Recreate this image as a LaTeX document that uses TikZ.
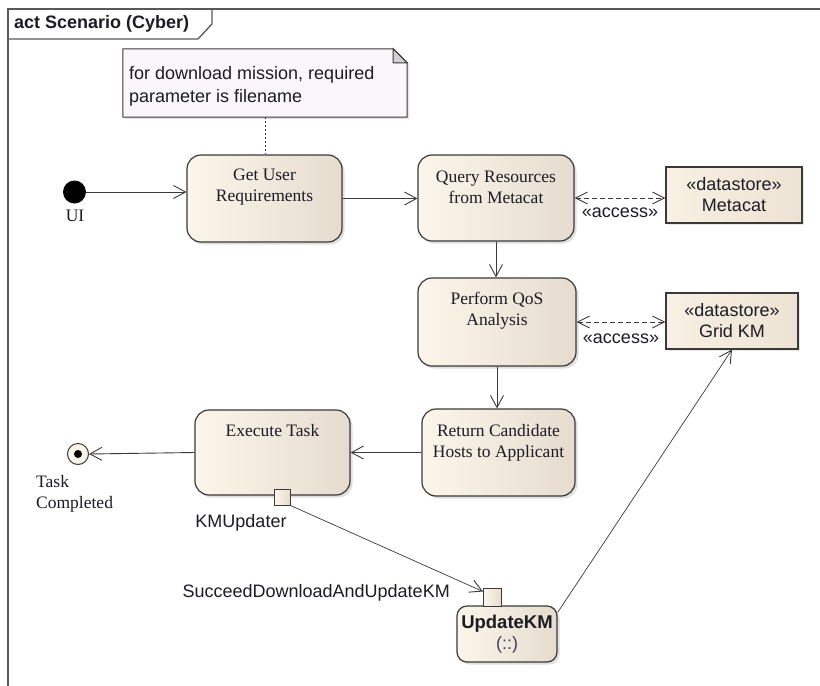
\documentclass[tikz,border=0pt]{standalone}
\usepackage{fontspec}
\setmainfont{Liberation Serif}
\setsansfont{Liberation Sans}
\usetikzlibrary{arrows.meta,shadows,calc}

\definecolor{actleft}{HTML}{FCF6EA}
\definecolor{actright}{HTML}{E5DCCE}
\definecolor{dsleft}{HTML}{F8F0E2}
\definecolor{dsright}{HTML}{EDE3D4}
\definecolor{linec}{HTML}{3A3A3A}
\definecolor{notefill}{HTML}{FAF6FA}
\definecolor{txt}{HTML}{1C1C26}
\definecolor{sigtxt}{HTML}{3A3F5E}

\tikzset{
  every node/.append style={text=txt},
  serif/.style={font=\fontsize{17.5}{21}\selectfont\rmfamily, inner sep=0pt, align=center},
  sans/.style={font=\fontsize{18}{21}\selectfont\sffamily, inner sep=0pt},
  softshadow/.style={drop shadow={shadow xshift=2.5pt, shadow yshift=-2.5pt, opacity=0.25, fill=black!50}},
  action/.style={draw=linec, line width=1.2pt, rounded corners=14pt,
    left color=actleft, right color=actright, softshadow},
  datastore/.style={draw=linec, line width=1.1pt, left color=dsleft, right color=dsright,
    drop shadow={shadow xshift=2pt, shadow yshift=-2pt, opacity=0.2, fill=black!45},
    sans, align=center, minimum height=56pt},
  actpin/.style={draw=linec, line width=1pt, left color=actleft, right color=actright,
    minimum size=16pt, inner sep=0pt},
  flow/.style={draw=linec, line width=0.9pt,
    -{Straight Barb[length=12pt, width=13pt, line width=0.9pt]}},
  access/.style={draw=linec, line width=0.9pt, dash pattern=on 5pt off 3pt,
    {Straight Barb[length=12pt, width=12pt, line width=0.9pt]}-{Straight Barb[length=12pt, width=12pt, line width=0.9pt]}},
  frameline/.style={draw=black!65, line width=1.3pt},
}

\begin{document}
\begin{tikzpicture}[x=1pt, y=-1pt]
\useasboundingbox (0,0) rectangle (820,686);
\clip (0,0) rectangle (820,686);
\fill[white] (0,0) rectangle (820,686);

% diagram frame and its name tab
\draw[frameline] (8,700) -- (8,9) -- (830,9);
\draw[frameline] (8,39) -- (198,39) -- (212,24) -- (212,9);
\node[font=\fontsize{18}{21}\selectfont\sffamily\bfseries, anchor=west, inner sep=0pt] (title) at (14,24) {act Scenario (Cyber)};

% comment note with folded corner
\node[minimum width=284pt, minimum height=68pt, inner sep=0pt] (note) at (265,83) {};
\filldraw[draw=linec, line width=1pt, fill=notefill, drop shadow={shadow xshift=2pt, shadow yshift=-2pt, opacity=0.2, fill=black!50}]
  (note.north west) -- ([xshift=-14pt]note.north east) -- ([yshift=-14pt]note.north east)
  -- (note.south east) -- (note.south west) -- cycle;
\filldraw[draw=linec, line width=1pt, fill=black!18]
  ([xshift=-14pt]note.north east) -- ([xshift=-14pt, yshift=-14pt]note.north east) -- ([yshift=-14pt]note.north east) -- cycle;
\node[sans, font=\fontsize{18}{23}\selectfont\sffamily, anchor=north west, align=left] (notetext) at (129,66)
  {for download mission, required\\parameter is filename};

% actions
\node[action, minimum width=155pt, minimum height=87pt] (gur) at (264.5,198.5) {};
\node[action, minimum width=156pt, minimum height=86pt] (qrm) at (496,198) {};
\node[action, minimum width=158pt, minimum height=88pt] (pqa) at (497,322) {};
\node[action, minimum width=153pt, minimum height=87pt] (rch) at (498.5,452.5) {};
\node[action, minimum width=155pt, minimum height=85pt] (ext) at (272.5,452.5) {};
\node[action, rounded corners=10pt, minimum width=100pt, minimum height=56pt, sans, align=center] (ukm) at (507,634)
  {\fontsize{18.5}{25}\selectfont\bfseries UpdateKM\\\fontsize{18}{25}\selectfont\color{sigtxt}(::)};

\node[serif] (gurtext) at ($(gur.center)+(0,-11)$) {Get User\\Requirements};
\node[serif] (qrmtext) at ($(qrm.center)+(0,-10.5)$) {Query Resources\\from Metacat};
\node[serif] (pqatext) at ($(pqa.center)+(0,-11)$) {Perform QoS\\Analysis};
\node[serif] (rchtext) at ($(rch.center)+(0,-10)$) {Return Candidate\\Hosts to Applicant};
\node[serif] (exttext) at ($(ext.center)+(0,-22)$) {Execute Task};

% data stores
\node[datastore, minimum width=136pt] (mc) at (734,195) {«datastore»\\Metacat};
\node[datastore, minimum width=132pt] (gk) at (732,321) {«datastore»\\Grid KM};

% pins
\node[actpin] (pout) at (282,497) {};
\node[actpin, minimum size=18pt] (pin) at (492.5,597) {};
\node[sans, anchor=center] (poutlabel) at (241,523) {KMUpdater};
\node[sans, anchor=east] (pinlabel) at (450,593) {SucceedDownloadAndUpdateKM};

% initial and final nodes
\node[circle, fill=black, minimum size=23pt, inner sep=0pt] (ui) at (74.5,192) {};
\node[serif] (uilabel) at (75,216) {UI};
\node[circle, draw=linec, line width=1pt, fill=actleft, minimum size=21pt, inner sep=0pt] (fin) at (78,454) {};
\node[circle, fill=black, minimum size=8pt, inner sep=0pt] (findot) at (fin.center) {};
\node[serif, anchor=north west, align=left] (finlabel) at (36,475) {Task\\Completed};

% control flows
\draw[flow] (ui.east) -- (ui.east -| gur.west);
\draw[flow] (gur.east) -- (gur.east -| qrm.west);
\draw[flow] (qrm.south) -- (qrm.south |- pqa.north);
\draw[flow] (pqa.south) -- (pqa.south |- rch.north);
\draw[flow] (rch.west) -- (rch.west -| ext.east);
\draw[flow] (ext.west) -- (fin.east);

% data access
\draw[access] (qrm.east) -- (qrm.east -| mc.west);
\node[sans] (acc1) at (620,213) {«access»};
\draw[access] (pqa.east) -- (pqa.east -| gk.west);
\node[sans] (acc2) at (621,339) {«access»};

% object flows
\draw[flow, line width=0.7pt] (pout.south east) -- ([yshift=-4pt]pin.north west);
\draw[flow, line width=0.7pt] (ukm.23) -- (gk.south);

% note anchor
\draw[draw=linec, line width=1pt, dash pattern=on 2pt off 2pt] (note.south) -- (note.south |- gur.north);
\end{tikzpicture}
\end{document}
